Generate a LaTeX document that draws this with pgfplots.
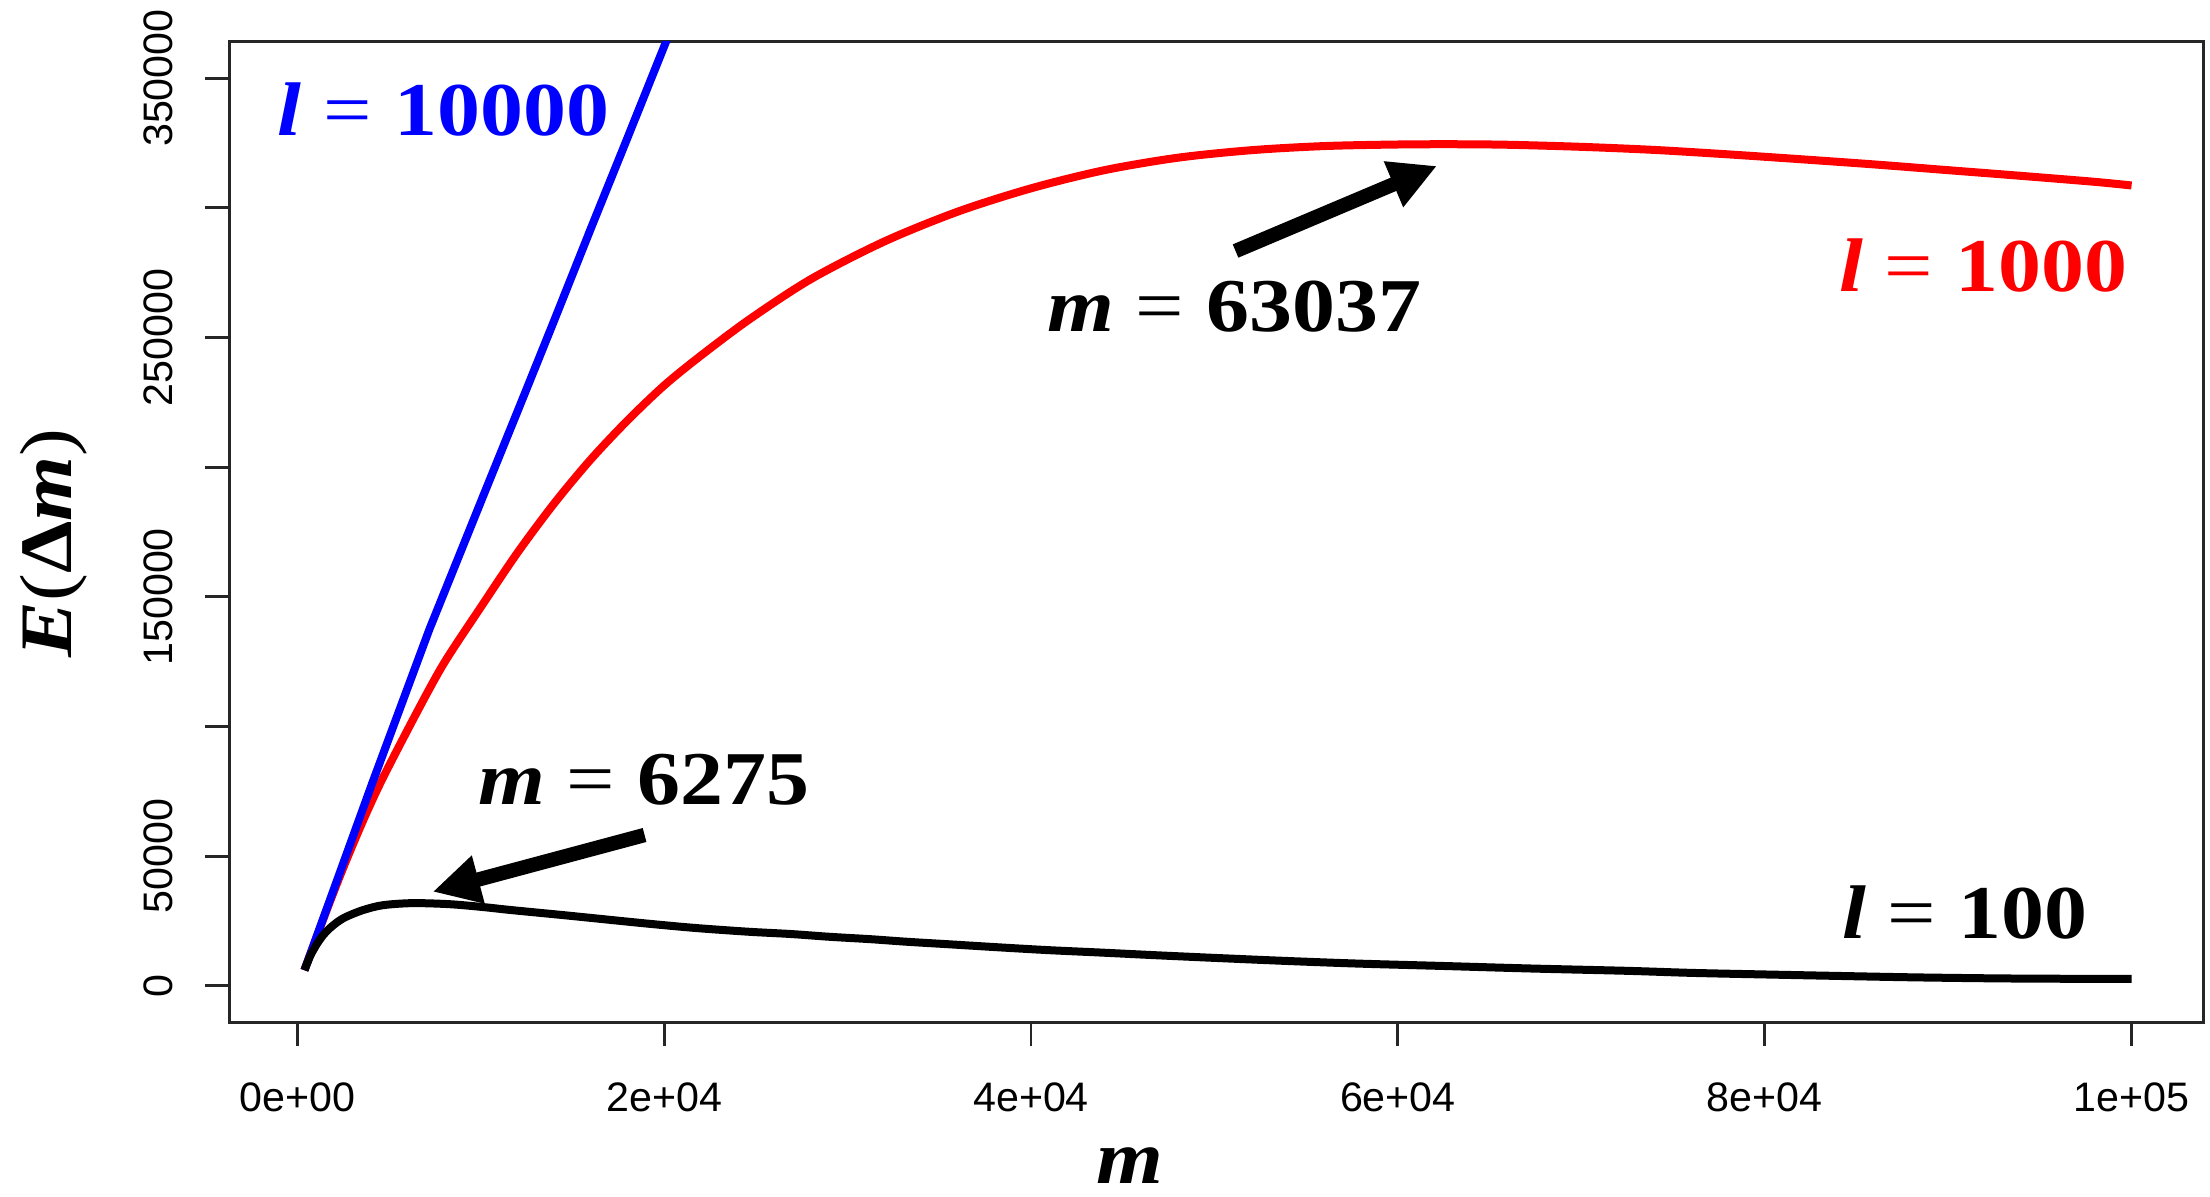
\documentclass[border=0pt]{standalone}
\usepackage{fontspec}
\setmainfont{Liberation Sans}
\newfontfamily\lab[FakeStretch=1.13]{Liberation Serif}
\usepackage{pgfplots}
\pgfplotsset{compat=1.18}
\usetikzlibrary{arrows.meta}
\newcommand\eqlab[2]{{\lab\fontsize{19}{21}\selectfont{\bfseries\itshape #1}\hspace{0.28em}=\hspace{0.3em}{\bfseries #2}}}
\newcommand\tickfont{\fontsize{10.3}{12}\selectfont}

\begin{document}
\begin{tikzpicture}
\path[use as bounding box] (-57.375pt,-43.7pt) rectangle (495.125pt,255.55pt);
\begin{axis}[
  at={(0pt,0pt)}, anchor=south west,
  scale only axis, width=493.4pt, height=245.1pt,
  xmin=-3700, xmax=103900, ymin=-14000, ymax=364000,
  axis line style={line width=0.7pt, black!85},
  every tick/.style={line width=0.7pt, black!85},
  tick align=outside, xtick pos=bottom, ytick pos=left,
  major tick length=6pt,
  scaled ticks=false,
  xtick={0,20000,40000,60000,80000,100000},
  xticklabels={0e+00,2e+04,4e+04,6e+04,8e+04,1e+05},
  ytick={0,50000,100000,150000,200000,250000,300000,350000},
  yticklabels={0,50000,{},150000,{},250000,{},350000},
  xticklabel style={font=\tickfont, anchor=north, inner sep=0pt, yshift=-8.9pt},
  yticklabel style={font=\tickfont, xshift=-7.9pt, rotate=90, anchor=south, inner sep=0pt},
  xlabel={\lab\fontsize{19}{21}\selectfont\bfseries\itshape m},
  ylabel={\lab\fontsize{18.5}{21}\selectfont{\bfseries\itshape E}(\textbf{Δ}{\bfseries\itshape m})},
  every axis x label/.style={at={(axis description cs:0.4563,-0.1650)}, anchor=base, inner sep=0pt},
  every axis y label/.style={at={(axis description cs:-0.0800,0.4887)}, rotate=90, anchor=base, inner sep=0pt},
  clip mode=individual,
]
% l = 1000
\addplot[red, line width=2pt, mark=none, line join=round, smooth, tension=0.5] coordinates {
(387,6050) (1400,25500) (2500,45500) (3600,64000) (4650,80000) (6480,105000)
(8000,124500) (10000,146000) (12000,167000) (14000,186000) (16000,203000)
(18000,218000) (20000,231500) (22000,243000) (24650,257000) (28000,272500)
(32000,287000) (36000,298500) (40000,307500) (44000,314500) (48000,319300)
(52000,322200) (56000,323800) (60000,324400) (63037,324500) (66000,324300)
(70000,323500) (74000,322300) (78000,320600) (82000,318700) (86000,316700)
(90000,314500) (94000,312300) (98000,310000) (100000,308600)
};
% l = 10000
\addplot[blue, line width=2pt, mark=none, line join=round] coordinates {
(387,6050) (2000,37500) (4100,78500) (7200,137500) (10110,188500)
(12290,226500) (14000,256500) (16000,292000) (18000,327000) (20070,363500)
(21000,380000)
};
% l = 100
\addplot[black, line width=2pt, mark=none, line join=round, smooth, tension=0.5] coordinates {
(387,6050) (700,11500) (1025,15700) (1400,19500) (1750,22100) (2200,24700)
(2660,26630) (3570,29200) (4660,31100) (6275,31900) (8290,31500) (10110,30400)
(11560,29300) (14470,27300) (16290,26000) (19020,24050) (21740,22300)
(24650,20850) (26890,20000) (29070,18900) (31250,18000) (33250,17000)
(35610,16000) (38160,14900) (40880,13800) (43790,12850) (46700,11850)
(49970,10800) (53790,9650) (57790,8600) (62330,7700) (67240,6700)
(72510,5800) (76060,5000) (80000,4400) (83530,3900) (88000,3300)
(92480,2900) (96000,2750) (100000,2700)
};
\node[anchor=base, inner sep=0pt, text=blue] at (axis cs:7966,327720) {\eqlab{l}{10000}};
\node[anchor=base, inner sep=0pt, text=red] at (axis cs:91908,267890) {\eqlab{l}{1000}};
\node[anchor=base, inner sep=0pt] at (axis cs:51096,252450) {\eqlab{m}{63037}};
\node[anchor=base, inner sep=0pt] at (axis cs:18898,69870) {\eqlab{m}{6275}};
\node[anchor=base, inner sep=0pt] at (axis cs:90900,18140) {\eqlab{l}{100}};
\draw[line width=3.6pt, -{Triangle[length=11.8pt,width=11.6pt]}] (axis cs:51150,283330) -- (axis cs:62130,316140);
\draw[line width=3.6pt, -{Triangle[length=11.8pt,width=11.6pt]}] (axis cs:18930,58170) -- (axis cs:7380,36290);
\end{axis}
\end{tikzpicture}
\end{document}
